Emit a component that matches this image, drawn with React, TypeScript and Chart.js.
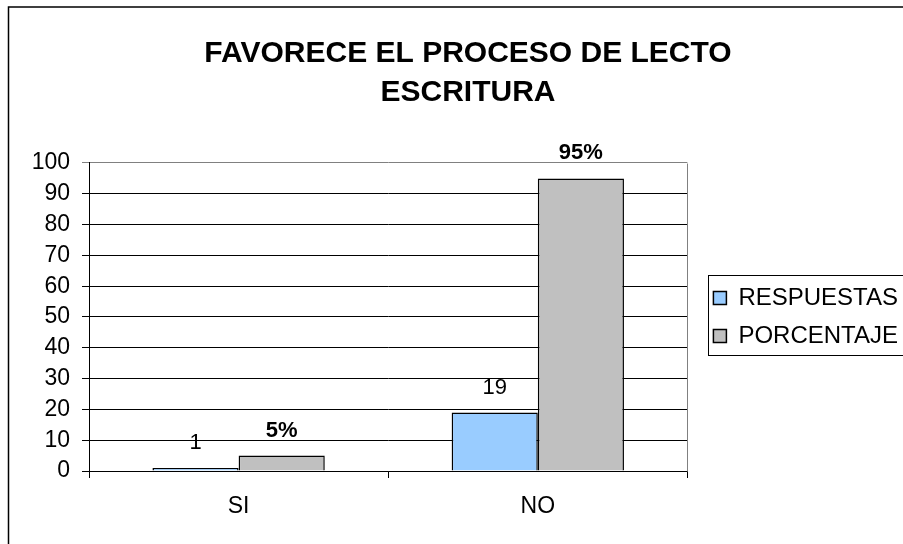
import React, { useEffect, useRef } from "react";
import { Chart, registerables } from "chart.js";

Chart.register(...registerables);

const TITLE_LINES = ["FAVORECE EL PROCESO DE LECTO", "ESCRITURA"];
const CATEGORIES = ["SI", "NO"];
const SERIES_NAMES = ["RESPUESTAS", "PORCENTAJE"];
const RESPUESTAS = [1, 19];
const PORCENTAJE = [5, 95];
const Y_MIN = 0;
const Y_MAX = 100;
const Y_STEP = 10;

const FONT = "'Liberation Sans', Arial, Helvetica, sans-serif";

const framePlugin = {
  id: "frame",
  beforeDraw(chart: any) {
    const { ctx, width, height } = chart;
    ctx.save();
    ctx.fillStyle = "#ffffff";
    ctx.fillRect(0, 0, width, height);
    ctx.strokeStyle = "#000000";
    ctx.lineWidth = 1.5;
    ctx.strokeRect(8.5, 7, width + 20, height + 20);
    ctx.restore();
  },
};

const plotBorderPlugin = {
  id: "plotBorder",
  beforeDatasetsDraw(chart: any) {
    const { ctx, chartArea } = chart;
    ctx.save();
    ctx.strokeStyle = "#808080";
    ctx.lineWidth = 1;
    const r = Math.round(chartArea.right) + 0.5;
    ctx.beginPath();
    ctx.moveTo(r, Math.round(chartArea.top) + 0.5);
    ctx.lineTo(r, Math.round(chartArea.bottom) + 0.5);
    ctx.stroke();
    ctx.restore();
  },
};

const valueLabelPlugin = {
  id: "valueLabels",
  afterDatasetsDraw(chart: any) {
    const { ctx } = chart;
    ctx.save();
    ctx.fillStyle = "#000000";
    ctx.textAlign = "center";
    ctx.textBaseline = "middle";
    chart.data.datasets.forEach((ds: any, di: number) => {
      const meta = chart.getDatasetMeta(di);
      meta.data.forEach((bar: any, i: number) => {
        const v = ds.data[i];
        const isPct = di === 1;
        ctx.font = `${isPct ? "bold " : ""}22px ${FONT}`;
        ctx.fillText(isPct ? `${v}%` : `${v}`, bar.x, bar.y - 25);
      });
    });
    ctx.restore();
  },
};

const legendBoxPlugin = {
  id: "legendBox",
  afterDraw(chart: any) {
    const lg = chart.legend;
    if (!lg || !lg.legendHitBoxes || !lg.legendHitBoxes.length) return;
    const hb = lg.legendHitBoxes;
    const first = hb[0];
    const last = hb[hb.length - 1];
    const { ctx, width } = chart;
    const left = Math.round(lg.left + 9) + 0.5;
    const top = Math.round(first.top - 11) + 0.5;
    const bottom = Math.round(last.top + last.height + 7) + 0.5;
    ctx.save();
    ctx.strokeStyle = "#000000";
    ctx.lineWidth = 1;
    ctx.strokeRect(left, top, width + 20 - left, bottom - top);
    ctx.restore();
  },
};

export default function App() {
  const canvasRef = useRef<HTMLCanvasElement | null>(null);

  useEffect(() => {
    if (!canvasRef.current) return;
    Chart.defaults.font.family = FONT;
    Chart.defaults.color = "#000000";
    const chart = new Chart(canvasRef.current, {
      type: "bar",
      data: {
        labels: CATEGORIES,
        datasets: [
          {
            label: SERIES_NAMES[0],
            data: RESPUESTAS,
            backgroundColor: "#99CCFF",
            borderColor: "#000000",
            borderWidth: 1.5,
            categoryPercentage: 0.576,
            barPercentage: 1,
          },
          {
            label: SERIES_NAMES[1],
            data: PORCENTAJE,
            backgroundColor: "#C0C0C0",
            borderColor: "#000000",
            borderWidth: 1.5,
            categoryPercentage: 0.576,
            barPercentage: 1,
          },
        ],
      },
      options: {
        responsive: false,
        animation: false,
        events: [],
        layout: { padding: { left: 28, right: 0, top: 0, bottom: 0 } },
        plugins: {
          tooltip: { enabled: false },
          title: {
            display: true,
            text: TITLE_LINES,
            color: "#000000",
            font: { size: 30, weight: "bold", lineHeight: 1.2833 },
            padding: { top: 34.5, bottom: 51.5 },
          },
          legend: {
            display: true,
            position: "right",
            fullSize: false,
            align: "center",
            maxWidth: 400,
            labels: {
              color: "#000000",
              font: { size: 24 },
              boxWidth: 13,
              boxHeight: 13,
              padding: 14,
            },
          },
        },
        scales: {
          x: {
            type: "category",
            offset: true,
            grid: {
              display: true,
              drawOnChartArea: false,
              drawTicks: true,
              tickLength: 7,
              offset: true,
              color: "#000000",
            },
            border: { display: true, color: "#000000", width: 1 },
            ticks: { color: "#000000", font: { size: 23 }, padding: 15, maxRotation: 0 },
            afterFit: (s: any) => {
              s.height = 73;
            },
          },
          y: {
            type: "linear",
            min: Y_MIN,
            max: Y_MAX,
            grid: {
              display: true,
              drawTicks: true,
              tickLength: 7,
              color: (c: any) =>
                c.tick && c.tick.value === Y_MAX ? "#808080" : "#000000",
            },
            border: { display: true, color: "#000000", width: 1 },
            ticks: {
              stepSize: Y_STEP,
              color: "#000000",
              font: { size: 23 },
              padding: 12,
            },
            afterFit: (s: any) => {
              s.width = 61;
            },
          },
          gap: {
            type: "linear",
            position: "right",
            display: true,
            grid: { display: false, drawTicks: false },
            border: { display: false },
            ticks: { display: false },
            afterFit: (s: any) => {
              s.width = 12;
            },
          },
        },
      },
      plugins: [framePlugin, plotBorderPlugin, valueLabelPlugin, legendBoxPlugin],
    } as any);
    return () => chart.destroy();
  }, []);

  return (
    <div
      style={{
        position: "absolute",
        left: 0,
        top: 0,
        width: 903,
        height: 544,
        overflow: "hidden",
        background: "#ffffff",
      }}
    >
      <canvas
        ref={canvasRef}
        width={908}
        height={544}
        style={{ display: "block", width: 908, height: 544 }}
      />
    </div>
  );
}
